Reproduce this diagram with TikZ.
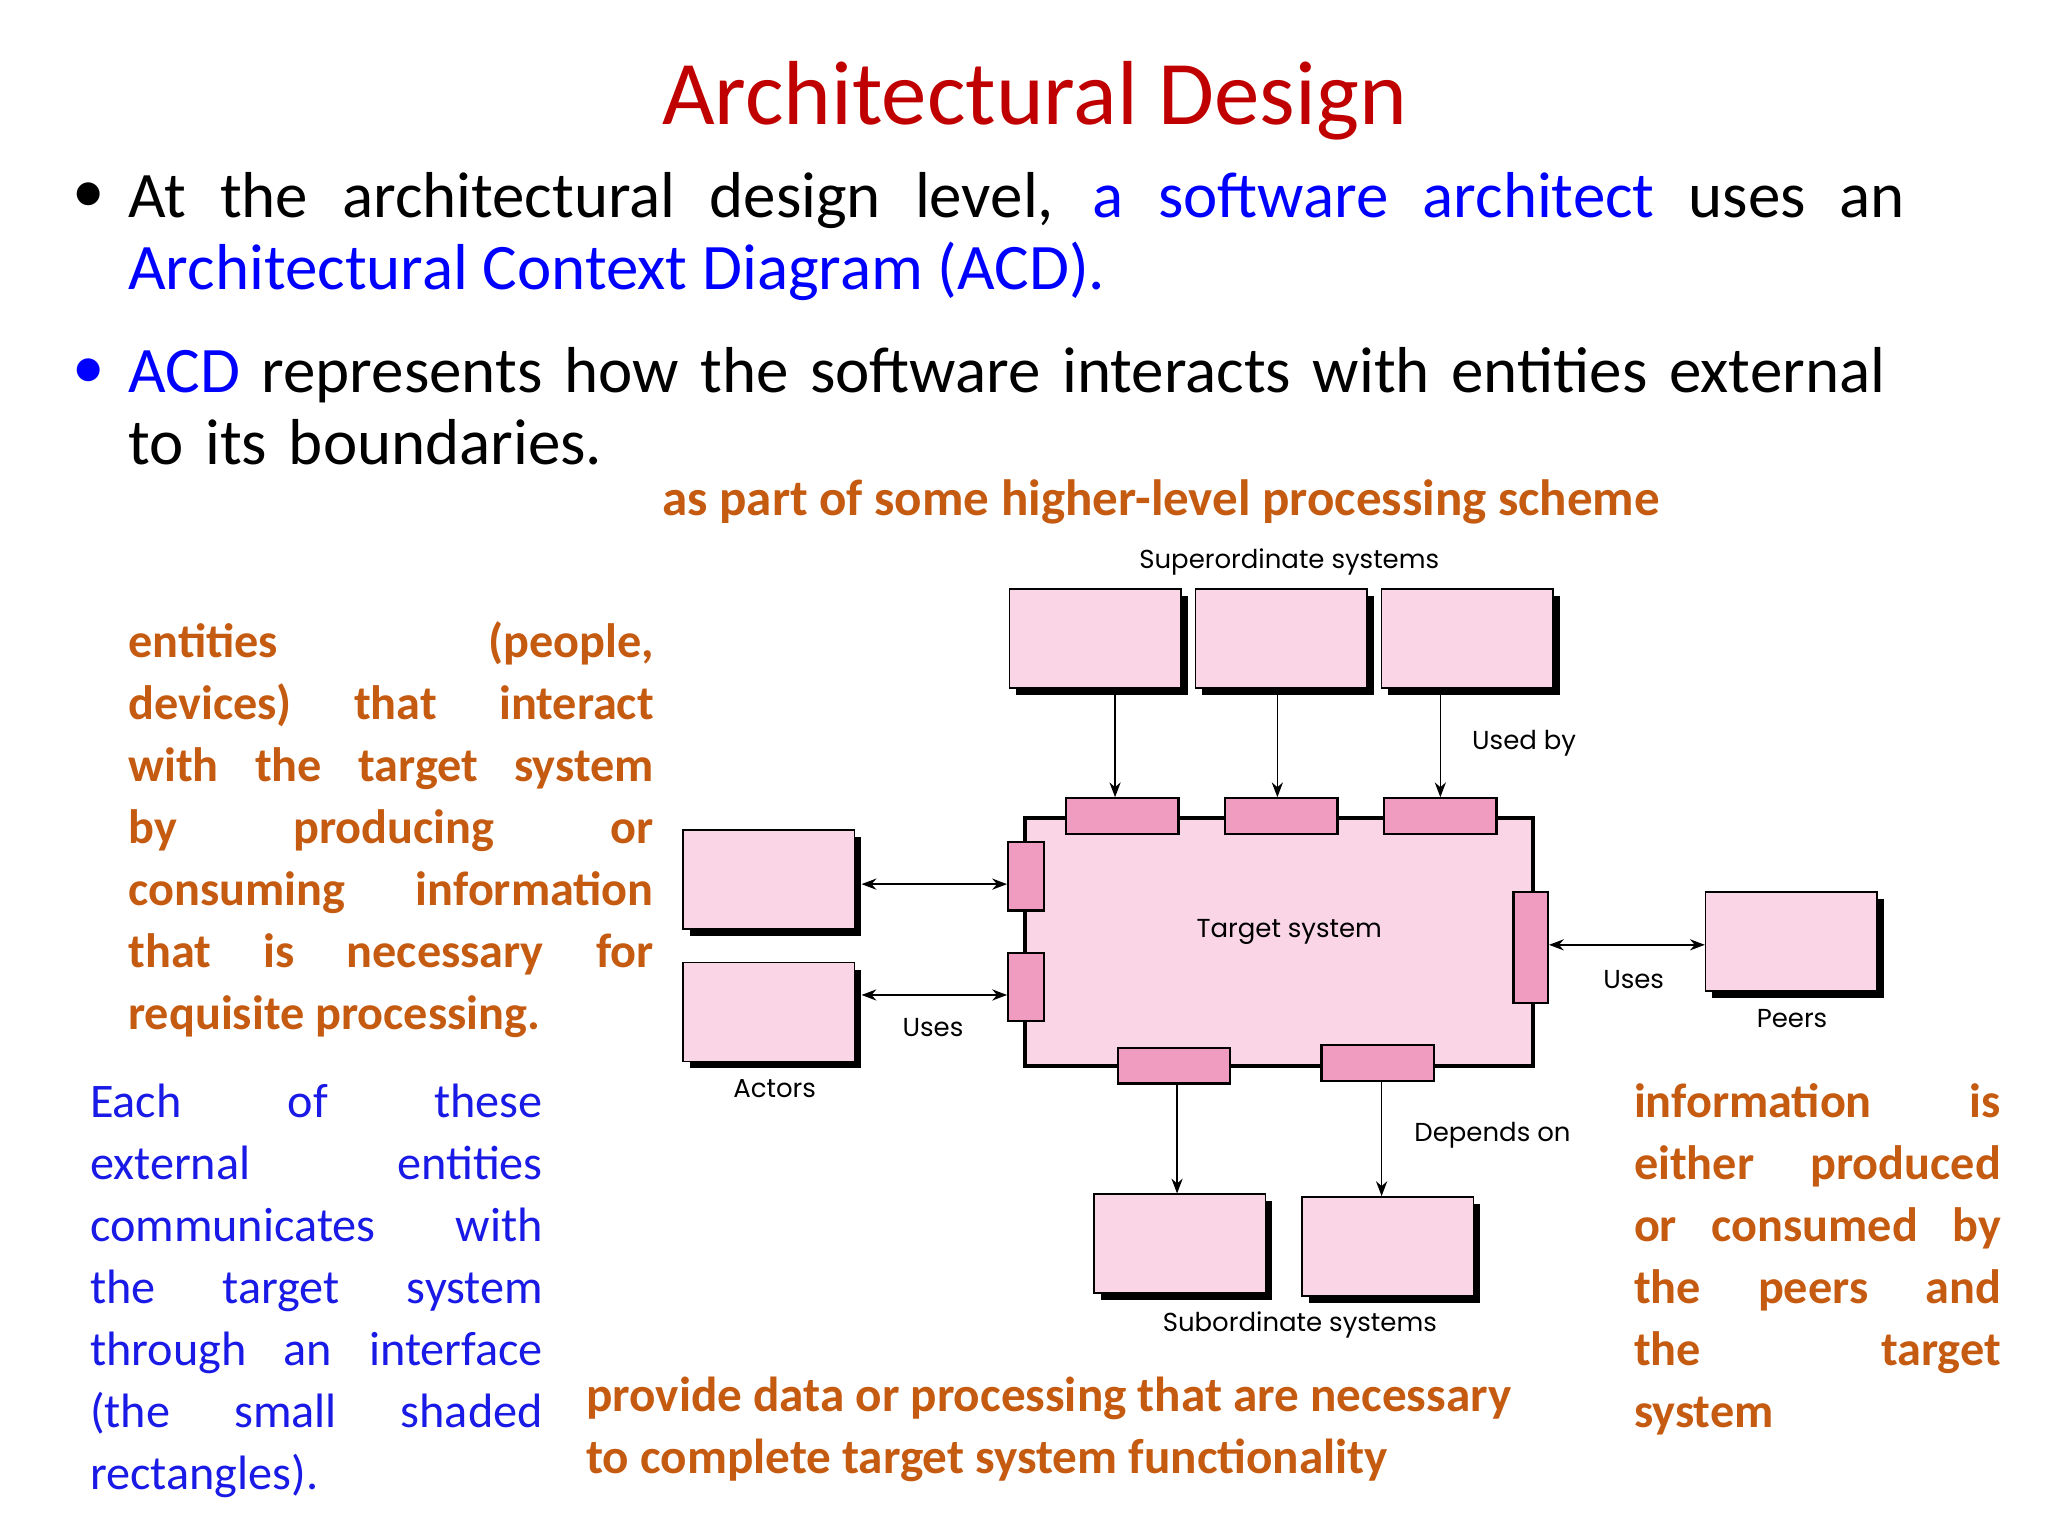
\documentclass[tikz,border=0pt]{standalone}
\usepackage{fontspec}
\setmainfont{Carlito}
\newfontfamily\diagfont{Poppins}
\usetikzlibrary{shadows,arrows.meta}
\definecolor{ttl}{HTML}{C00000}
\definecolor{org}{HTML}{C55A11}
\definecolor{blu}{HTML}{1A1AE6}
\definecolor{boxpink}{HTML}{F9D5E5}
\definecolor{ifpink}{HTML}{F09BC0}
\tikzset{
 x=0.025cm,y=-0.025cm,
 ebox/.style={draw=black,line width=0.8pt,fill=boxpink,minimum width=3.25cm,minimum height=1.875cm,inner sep=0pt,
   general shadow={fill=black,shadow xshift=0.13cm,shadow yshift=-0.13cm}},
 tbox/.style={draw=black,line width=2.2pt,fill=boxpink,minimum width=9.625cm,minimum height=4.7cm,inner sep=0pt},
 ifh/.style={draw=black,line width=1.2pt,fill=ifpink,minimum width=2.125cm,minimum height=0.675cm,inner sep=0pt},
 ifv/.style={draw=black,line width=1.2pt,fill=ifpink,minimum width=0.675cm,minimum height=1.3cm,inner sep=0pt},
 arr/.style={-{Stealth[length=8pt,width=6pt]},line width=0.9pt},
 darr/.style={{Stealth[length=8pt,width=6pt]}-{Stealth[length=8pt,width=6pt]},line width=0.9pt},
 lbl/.style={font=\diagfont\fontsize{14}{17}\selectfont,inner sep=0pt},
 para/.style={anchor=north west,inner sep=0pt,align=justify,font=\fontsize{26}{33.4}\selectfont},
 bul/.style={anchor=north west,inner sep=0pt,text width=33.65cm,font=\fontsize{35}{39}\selectfont},
}
\begin{document}
\begin{tikzpicture}
\useasboundingbox[fill=white] (0,0) rectangle (1552,1164);
\node[text=ttl,font=\fontsize{49}{55}\selectfont,inner sep=0pt] (title) at (784,76) {Architectural Design};
\node[bul,align=justify] (b1) at (97,130)
 {At the architectural design level, \textcolor{blue}{a software architect} uses an\linebreak \textcolor{blue}{Architectural Context Diagram (ACD).}};
\node[inner sep=0pt,font=\fontsize{35}{39}\selectfont] (d1) at (67,150) {•};
\node[bul,align=left] (b2) at (97,263)
 {\makebox[\linewidth][s]{\textcolor{blue}{ACD} represents how the software interacts with entities external}\\ to its boundaries.};
\node[inner sep=0pt,font=\fontsize{35}{39}\selectfont,text=blue] (d2) at (67,283) {•};
\node[text=org,font=\bfseries\fontsize{27.5}{30}\selectfont,inner sep=0pt] (top) at (880,380) {as part of some higher-level processing scheme};
\node[para,text=org,font=\bfseries\fontsize{26}{33.4}\selectfont,text width=9.95cm] (lp) at (97,471)
 {entities (people,\linebreak devices) that interact\linebreak with the target system\linebreak by producing or\linebreak consuming information\linebreak that is necessary for\linebreak requisite processing.};
\node[para,text=blu,text width=8.575cm] (bp) at (68,821)
 {Each of these\linebreak external entities\linebreak communicates with\linebreak the target system\linebreak through an interface\linebreak (the small shaded\linebreak rectangles).};
\node[para,text=org,font=\bfseries\fontsize{26}{33.4}\selectfont,text width=6.95cm] (rp) at (1238,821)
 {information is\linebreak either produced\linebreak or consumed by\linebreak the peers and\linebreak the target\linebreak system};
\node[anchor=north west,inner sep=0pt,align=left,text=org,font=\bfseries\fontsize{26.5}{33.4}\selectfont] (bt) at (444,1043)
 {provide data or processing that are necessary\\ to complete target system functionality};
% diagram
\node[ebox] (s1) at (830,484) {};
\node[ebox] (s2) at (971,484) {};
\node[ebox] (s3) at (1112,484) {};
\node[tbox] (t) at (969.5,714) {};
\node[lbl] at (977,706) {Target system};
\node[ifh] (i1) at (850.5,618.5) {};
\node[ifh] (i2) at (971,618.5) {};
\node[ifh] (i3) at (1091.5,618.5) {};
\node[ifv] (l1) at (777.5,664) {};
\node[ifv] (l2) at (777.5,748) {};
\node[ifv,minimum height=2.1cm,minimum width=0.65cm] (r1) at (1160,718) {};
\node[ifh] (o1) at (889.5,807.5) {};
\node[ifh] (o2) at (1044,805.5) {};
\node[ebox] (a1) at (582.5,666.5) {};
\node[ebox] (a2) at (582.5,767) {};
\node[ebox] (p1) at (1357.5,713.5) {};
\node[ebox] (u1) at (894,942.5) {};
\node[ebox] (u2) at (1051.5,944.5) {};
\draw[arr] (s1.south -| 845,0) -- (i1.north -| 845,0);
\draw[arr] (s2.south -| 968,0) -- (i2.north -| 968,0);
\draw[arr] (s3.south -| i3) -- (i3.north);
\draw[darr] ([xshift=0.12cm]a1.east |- 0,670) -- (l1.west |- 0,670);
\draw[darr] ([xshift=0.12cm]a2.east |- 0,754) -- (l2.west |- 0,754);
\draw[darr] (r1.east |- 0,716) -- (p1.west |- 0,716);
\draw[arr] (o1.south -| 892,0) -- (u1.north -| 892,0);
\draw[arr] (o2.south -| 1047,0) -- (u2.north -| 1047,0);
\node[lbl] (lsup) at (977,426) {Superordinate systems};
\node[lbl] (lused) at (1155,563) {Used by};
\node[lbl] (luse1) at (707,779) {Uses};
\node[lbl] (luse2) at (1238,742) {Uses};
\node[lbl] (lpeer) at (1358,772) {Peers};
\node[lbl] (lact) at (587,825) {Actors};
\node[lbl] (ldep) at (1131,860) {Depends on};
\node[lbl] (lsub) at (985,1004) {Subordinate systems};
\end{tikzpicture}
\end{document}
